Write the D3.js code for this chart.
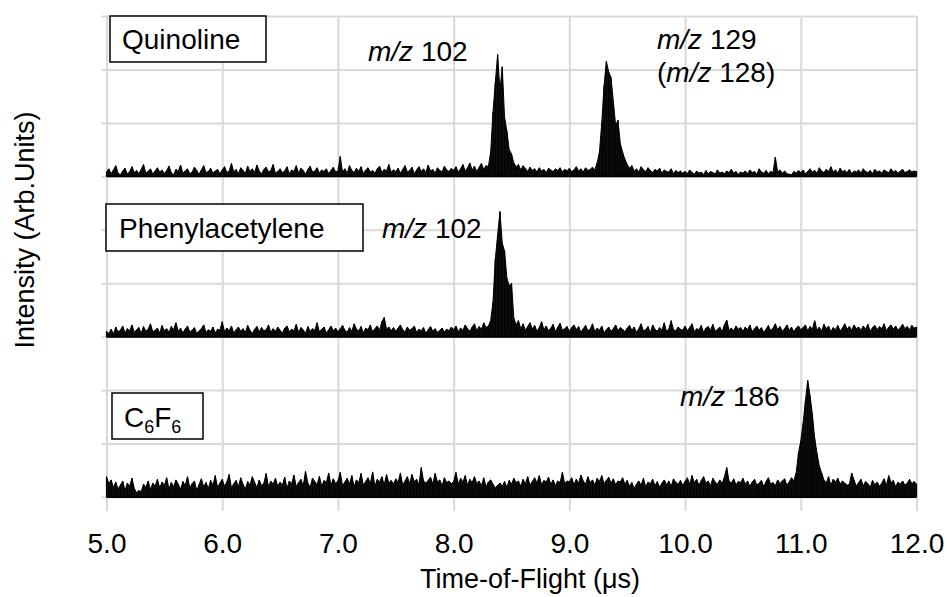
<!DOCTYPE html>
<html>
<head>
<meta charset="utf-8">
<script src="https://cdn.jsdelivr.net/npm/d3@7"></script>
<style>
  body { margin: 0; background: #fff; }
  text { font-family: "Liberation Sans", Arial, sans-serif; fill: #000; }
</style>
</head>
<body>
<div id="chart"></div>
<script>
// time axis (µs): one sample every 0.02 µs from 5.00 to 12.00
const tStart = 5.0;
const tStep = 0.02;
const xTicks = [5, 6, 7, 8, 9, 10, 11, 12];

// intensities in hundredths of one grid division
const quinoline = [
  8,14,5,12,20,6,3,10,15,4,9,18,7,11,5,13,22,6,9,14,4,10,16,8,12,
  5,11,19,7,3,13,9,21,6,10,14,5,8,17,11,4,12,20,7,9,15,6,10,13,5,
  12,18,7,10,24,8,13,5,16,11,6,19,9,14,7,21,10,5,13,17,8,11,22,6,9,
  14,7,10,18,5,12,9,20,6,15,11,4,13,19,8,10,16,6,12,9,14,5,11,17,8,
  10,37,8,14,6,20,11,7,15,9,18,5,12,16,8,11,6,14,19,7,13,10,22,8,12,
  9,15,6,13,20,8,11,17,5,12,18,9,14,7,21,10,13,6,16,11,8,19,12,9,15,
  11,18,8,14,22,10,16,25,12,19,9,17,24,13,20,18,45,120,175,228,160,205,110,85,50,
  42,25,18,22,12,20,15,9,17,11,14,8,16,10,13,7,15,12,9,14,11,16,8,13,10,
  15,9,12,18,10,14,8,16,11,13,17,12,25,45,100,170,215,195,185,140,95,105,62,45,32,
  22,15,20,10,14,8,18,12,9,16,11,7,13,10,15,6,12,9,8,14,5,11,7,10,6,
  9,5,12,7,4,10,6,8,3,11,5,9,7,4,12,6,8,5,10,7,13,6,9,4,8,
  6,10,5,12,7,9,4,14,8,6,11,5,9,7,36,8,12,6,10,5,4,3,9,6,11,
  7,12,5,9,14,8,11,6,16,10,7,13,9,18,8,12,6,15,9,11,7,13,5,10,8,
  12,6,14,9,7,11,5,13,8,10,6,12,9,7,14,8,11,6,10,13,7,9,12,8,10,
  9
];

const phenylacetylene = [
  10,6,14,5,18,9,12,20,7,15,11,22,8,13,17,6,19,10,14,24,9,12,16,7,21,
  11,15,8,19,13,26,10,16,7,14,20,9,12,17,6,11,15,22,8,13,10,18,7,14,12,
  28,9,16,11,20,7,13,18,10,15,8,21,12,6,14,19,9,17,11,13,22,8,15,10,18,
  12,7,16,20,9,14,11,23,8,17,13,6,19,10,15,12,26,9,14,18,7,13,20,11,16,
  9,15,21,12,8,17,10,24,14,11,19,7,16,13,22,9,15,20,12,28,36,14,18,11,17,
  10,16,22,13,9,18,12,15,20,8,14,11,17,6,13,19,10,15,8,12,16,9,14,11,18,
  13,20,9,16,12,22,15,10,18,24,11,19,14,26,17,20,30,65,145,190,234,175,160,110,95,
  100,35,22,30,15,24,12,19,26,14,21,10,17,28,13,20,11,16,23,9,18,25,12,15,19,
  10,17,22,13,19,8,15,21,11,14,24,9,16,12,20,7,13,18,10,15,22,11,17,14,9,
  16,21,12,18,8,15,24,11,13,19,7,22,14,10,17,12,26,9,15,30,13,11,18,14,12,
  20,11,17,24,9,15,13,21,8,16,19,12,23,10,14,18,9,22,31,12,16,11,20,14,17,
  10,18,13,22,9,15,20,12,17,8,14,21,11,16,24,13,19,10,15,22,12,18,9,16,20,
  13,17,22,11,19,14,30,12,18,10,23,15,20,9,17,13,21,11,16,24,14,19,12,22,15,
  18,12,20,14,23,10,17,21,13,19,15,24,11,18,22,14,20,12,17,23,15,19,13,21,16,
  18
];

const c6f6 = [
  38,25,32,18,28,15,22,30,12,26,20,35,16,8,12,10,24,18,30,14,26,20,33,17,28,
  22,36,15,27,19,32,24,14,29,21,38,17,25,30,12,23,34,19,27,16,31,22,40,18,26,
  33,20,28,42,17,25,31,19,36,24,15,29,22,38,27,18,32,21,26,44,19,30,24,35,20,
  28,22,37,16,30,25,41,19,27,33,21,48,26,18,35,29,23,39,20,31,27,45,22,34,25,
  30,46,21,28,35,24,40,19,32,27,44,22,29,36,25,47,20,33,28,38,23,42,26,31,24,
  34,27,45,22,30,38,25,42,29,33,23,55,30,26,31,37,24,44,28,32,21,36,27,30,25,
  29,46,24,35,28,40,22,33,27,38,25,30,21,36,19,28,32,24,17,22,26,20,29,18,31,
  24,35,27,30,20,33,25,38,22,29,36,26,40,23,31,28,37,24,32,21,30,27,46,25,30,
  28,36,23,33,26,41,30,24,38,27,32,22,35,29,40,25,31,37,26,34,23,30,28,36,24,
  31,20,27,16,24,30,22,35,19,28,25,33,21,29,18,26,32,23,30,20,34,27,24,31,22,
  29,36,24,40,27,33,22,31,38,26,30,21,35,28,24,32,25,37,55,30,26,34,23,29,27,
  35,24,30,20,28,33,22,26,31,19,29,36,24,27,21,32,25,30,34,22,28,36,30,45,82,
  105,138,180,218,190,155,110,82,58,45,32,26,38,22,33,28,35,24,30,26,22,24,45,32,20,
  27,33,21,29,25,18,31,23,28,20,26,34,22,40,27,31,19,28,24,30,22,26,33,25,29,
  24
];

// each trace sits on its own baseline (in grid divisions)
const traces = [
  { name: 'Quinoline', values: quinoline, base: 6 },
  { name: 'Phenylacetylene', values: phenylacetylene, base: 3 },
  { name: 'C6F6', values: c6f6, base: 0 }
];

const width = 947;
const height = 597;
const plotLeft = 106.5, plotRight = 916.5, plotTop = 16, plotBottom = 497;

const svg = d3.select('#chart')
  .append('svg')
  .attr('width', width)
  .attr('height', height);

const x = d3.scaleLinear().domain([5, 12]).range([plotLeft, plotRight]);
const y = d3.scaleLinear().domain([0, 9]).range([plotBottom, plotTop]);

const gridColor = '#d9d9d9';

// horizontal grid, with short ticks to the left
svg.append('g')
  .attr('transform', `translate(${plotLeft},0)`)
  .call(d3.axisLeft(y).ticks(9).tickSize(5).tickFormat(''))
  .call(g => g.select('.domain').remove())
  .call(g => g.selectAll('.tick line').clone()
    .attr('x2', plotRight - plotLeft))
  .call(g => g.selectAll('line').attr('stroke', gridColor).attr('stroke-width', 2));

// vertical grid, extending below the plot as ticks
svg.append('g')
  .attr('transform', `translate(0,${plotBottom})`)
  .call(d3.axisBottom(x).tickValues(xTicks).tickSize(14).tickSizeOuter(0)
    .tickFormat(d3.format('.1f')))
  .call(g => g.select('.domain').remove())
  .call(g => g.selectAll('.tick line').attr('y1', plotTop - plotBottom))
  .call(g => g.selectAll('line').attr('stroke', gridColor).attr('stroke-width', 2))
  .call(g => g.selectAll('text')
    .attr('y', 0).attr('dy', null)
    .attr('transform', 'translate(0,56)')
    .attr('font-size', 28)
    .attr('font-family', '"Liberation Sans", Arial, sans-serif')
    .attr('fill', '#000'));

// spectra: filled trace down to each baseline, plus a stick per sample
const tx = i => x(tStart + i * tStep);

traces.forEach(tr => {
  const g = svg.append('g');
  const area = d3.area()
    .x((d, i) => tx(i))
    .y0(y(tr.base))
    .y1(d => y(tr.base + d / 100));
  g.append('path')
    .datum(tr.values)
    .attr('fill', '#111')
    .attr('stroke', '#000')
    .attr('stroke-width', 1)
    .attr('d', area);
  g.selectAll('line')
    .data(tr.values)
    .join('line')
    .attr('x1', (d, i) => tx(i))
    .attr('x2', (d, i) => tx(i))
    .attr('y1', y(tr.base))
    .attr('y2', d => y(tr.base + d / 100))
    .attr('stroke', '#000')
    .attr('stroke-width', 1.2);
  g.append('line')
    .attr('x1', x(5)).attr('x2', x(12))
    .attr('y1', y(tr.base)).attr('y2', y(tr.base))
    .attr('stroke', '#000')
    .attr('stroke-width', 2);
});

// sample name boxes
const boxes = [
  { x: 110, y: 16, w: 156, h: 46, tx: 122, ty: 49, text: 'Quinoline' },
  { x: 106, y: 204, w: 257, h: 47, tx: 119, ty: 238, text: 'Phenylacetylene' },
  { x: 112, y: 393, w: 91, h: 46, tx: 124, ty: 427, text: null }
];
boxes.forEach(b => {
  svg.append('rect')
    .attr('x', b.x).attr('y', b.y)
    .attr('width', b.w).attr('height', b.h)
    .attr('fill', '#fff').attr('stroke', '#000').attr('stroke-width', 1.5);
  if (b.text) {
    svg.append('text').attr('x', b.tx).attr('y', b.ty)
      .attr('font-size', 28).text(b.text);
  } else {
    const t = svg.append('text').attr('x', b.tx).attr('y', b.ty).attr('font-size', 28);
    t.append('tspan').text('C');
    t.append('tspan').attr('font-size', 18).attr('dy', 6).text('6');
    t.append('tspan').attr('dy', -6).text('F');
    t.append('tspan').attr('font-size', 18).attr('dy', 6).text('6');
  }
});

// peak labels
function mzLabel(px, py, num, paren) {
  const t = svg.append('text').attr('x', px).attr('y', py).attr('font-size', 28);
  if (paren) t.append('tspan').text('(');
  t.append('tspan').attr('font-style', 'italic').text('m/z');
  t.append('tspan').text(' ' + num + (paren ? ')' : ''));
}
mzLabel(368, 61, 102);
mzLabel(657, 49, 129);
mzLabel(657, 82, 128, true);
mzLabel(382, 238, 102);
mzLabel(680, 406, 186);

// axis titles
svg.append('text')
  .attr('x', 530).attr('y', 588)
  .attr('text-anchor', 'middle')
  .attr('font-size', 27)
  .text('Time-of-Flight (\u03bcs)');

svg.append('text')
  .attr('transform', 'translate(34,230) rotate(-90)')
  .attr('text-anchor', 'middle')
  .attr('font-size', 27)
  .text('Intensity (Arb.Units)');
</script>
</body>
</html>
